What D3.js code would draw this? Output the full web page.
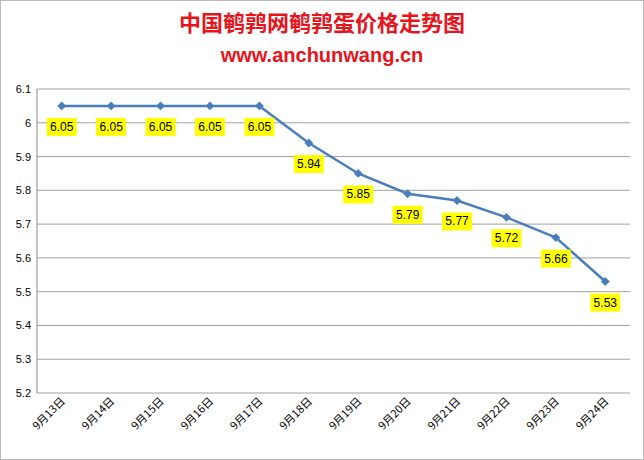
<!DOCTYPE html>
<html><head><meta charset="utf-8">
<script src="https://cdn.jsdelivr.net/npm/d3@7"></script>
<style>body{margin:0;background:#fff}</style>
</head><body>
<svg id="chart"></svg>
<script>
const dates = ['9月13日','9月14日','9月15日','9月16日','9月17日','9月18日','9月19日','9月20日','9月21日','9月22日','9月23日','9月24日'];
const prices = [6.05, 6.05, 6.05, 6.05, 6.05, 5.94, 5.85, 5.79, 5.77, 5.72, 5.66, 5.53];
const yTicks = [5.2, 5.3, 5.4, 5.5, 5.6, 5.7, 5.8, 5.9, 6, 6.1];

const width = 644, height = 460;
const svg = d3.select('#chart').attr('width', width).attr('height', height)
    .style('font-family', '"Liberation Sans", Arial, sans-serif');

svg.append('rect').attr('x', 0.5).attr('y', 0.5).attr('width', width - 1).attr('height', height - 1)
    .attr('fill', '#fff').attr('stroke', '#bbb');

svg.append('text').attr('x', width / 2).attr('y', 31).attr('text-anchor', 'middle')
    .attr('fill', '#e8141c').attr('font-size', 22).attr('font-weight', 'bold')
    .style('font-family', '"Noto Sans CJK SC"').text('中国鹌鹑网鹌鹑蛋价格走势图');
svg.append('text').attr('x', width / 2).attr('y', 62).attr('text-anchor', 'middle')
    .attr('fill', '#e8141c').attr('font-size', 20).attr('font-weight', 'bold')
    .text('www.anchunwang.cn');

const x = d3.scalePoint().domain(dates).range([37, 630]).padding(0.5);
const y = d3.scaleLinear().domain([5.2, 6.1]).range([393, 89]);

// grid
svg.append('g').selectAll('line').data(yTicks).join('line')
    .attr('x1', 37).attr('x2', 630).attr('y1', d => y(d)).attr('y2', d => y(d))
    .attr('stroke', '#888').attr('stroke-width', 0.8);
svg.append('line').attr('x1', 37).attr('x2', 37).attr('y1', y(6.1)).attr('y2', y(5.2)).attr('stroke', '#888');

svg.append('g').selectAll('text').data(yTicks).join('text')
    .attr('x', 31).attr('y', d => y(d) + 4).attr('text-anchor', 'end')
    .attr('font-size', 11).text(d => d3.format('')(+d.toFixed(1)));

// x labels
svg.append('g').selectAll('text').data(dates).join('text')
    .attr('transform', d => `translate(${x(d) + 4},${402}) rotate(-45)`)
    .attr('text-anchor', 'end').attr('font-size', 11)
    .style('font-family', '"Noto Sans CJK SC"').text(d => d);

// line
svg.append('path').datum(prices)
    .attr('d', d3.line().x((d, i) => x(dates[i])).y(d => y(d)))
    .attr('fill', 'none').attr('stroke', '#4a7ebb').attr('stroke-width', 2.5);

svg.append('g').selectAll('path').data(prices).join('path')
    .attr('d', d3.symbol(d3.symbolDiamond2, 50))
    .attr('transform', (d, i) => `translate(${x(dates[i])},${y(d)})`)
    .attr('fill', '#4a7ebb');

// labels
const lab = svg.append('g').selectAll('g').data(prices).join('g')
    .attr('transform', (d, i) => `translate(${x(dates[i])},${y(d) + 21})`);
lab.append('rect').attr('x', -15).attr('y', -9).attr('width', 30).attr('height', 18).attr('fill', '#ffff00');
lab.append('text').attr('text-anchor', 'middle').attr('y', 4).attr('font-size', 12)
    .text(d => d.toFixed(2));
</script>
</body></html>
